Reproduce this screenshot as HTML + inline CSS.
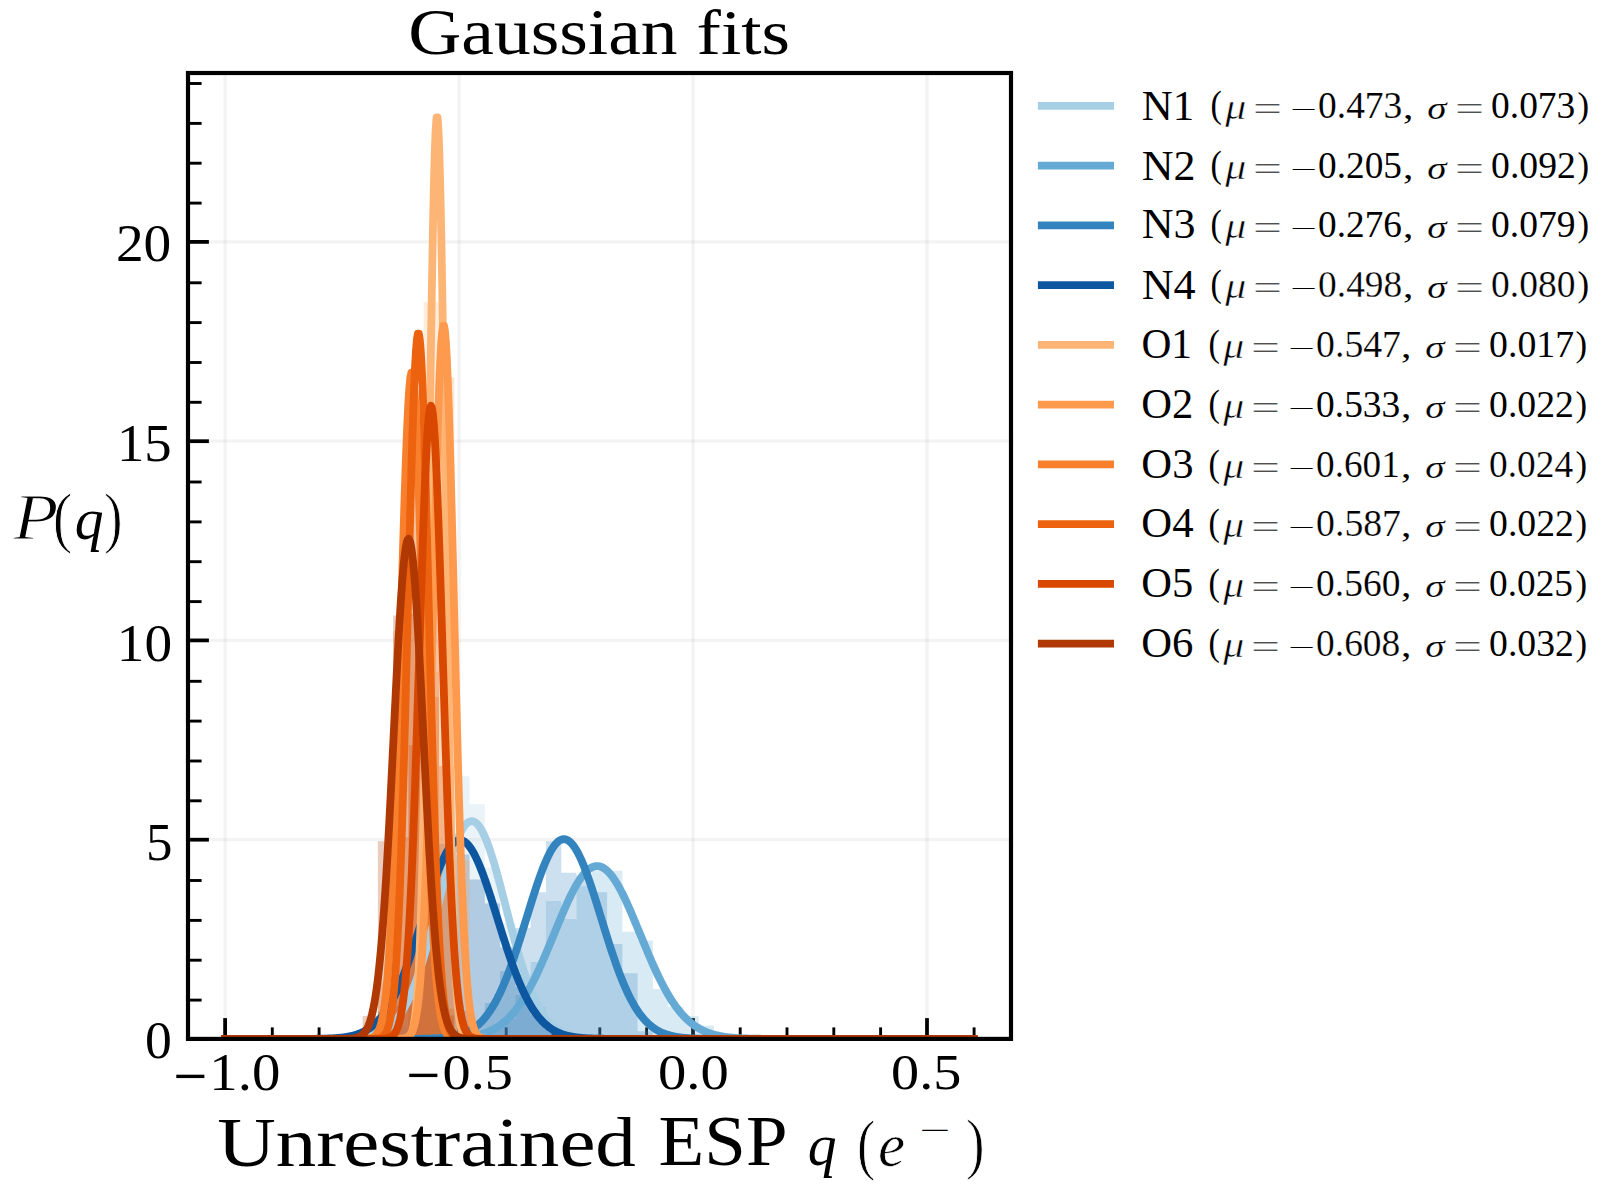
<!DOCTYPE html>
<html lang="en"><head><meta charset="utf-8"><title>Gaussian fits</title>
<style>
html,body{margin:0;padding:0;background:#fff;}
body{width:1612px;height:1192px;overflow:hidden;}
svg{display:block;}
text{font-family:"Liberation Serif",serif;fill:#000;}
.i{font-style:italic;}
</style></head><body>
<svg width="1612" height="1192" viewBox="0 0 1612 1192">
<defs><clipPath id="ax"><rect x="188.0" y="73.0" width="823.0" height="965.9"/></clipPath></defs>
<rect width="1612" height="1192" fill="#fff"/>
<g stroke="#b0b0b0" stroke-opacity="0.15" stroke-width="3.33" clip-path="url(#ax)">
<line x1="225.1" y1="73.0" x2="225.1" y2="1038.9"/><line x1="459.1" y1="73.0" x2="459.1" y2="1038.9"/><line x1="693.0" y1="73.0" x2="693.0" y2="1038.9"/><line x1="927.0" y1="73.0" x2="927.0" y2="1038.9"/><line x1="188.0" y1="839.7" x2="1011.0" y2="839.7"/><line x1="188.0" y1="640.4" x2="1011.0" y2="640.4"/><line x1="188.0" y1="441.2" x2="1011.0" y2="441.2"/><line x1="188.0" y1="241.9" x2="1011.0" y2="241.9"/>
</g>
<g stroke="#000" fill="none">
<g stroke-width="3.75"><line x1="225.1" y1="1038.9" x2="225.1" y2="1018.1"/><line x1="459.1" y1="1038.9" x2="459.1" y2="1018.1"/><line x1="693.0" y1="1038.9" x2="693.0" y2="1018.1"/><line x1="927.0" y1="1038.9" x2="927.0" y2="1018.1"/><line x1="188.0" y1="1038.9" x2="208.9" y2="1038.9"/><line x1="188.0" y1="839.7" x2="208.9" y2="839.7"/><line x1="188.0" y1="640.4" x2="208.9" y2="640.4"/><line x1="188.0" y1="441.2" x2="208.9" y2="441.2"/><line x1="188.0" y1="241.9" x2="208.9" y2="241.9"/></g>
<g stroke-width="2.9"><line x1="272.3" y1="1038.9" x2="272.3" y2="1027.4"/><line x1="319.1" y1="1038.9" x2="319.1" y2="1027.4"/><line x1="365.9" y1="1038.9" x2="365.9" y2="1027.4"/><line x1="412.7" y1="1038.9" x2="412.7" y2="1027.4"/><line x1="506.2" y1="1038.9" x2="506.2" y2="1027.4"/><line x1="553.0" y1="1038.9" x2="553.0" y2="1027.4"/><line x1="599.8" y1="1038.9" x2="599.8" y2="1027.4"/><line x1="646.6" y1="1038.9" x2="646.6" y2="1027.4"/><line x1="740.2" y1="1038.9" x2="740.2" y2="1027.4"/><line x1="787.0" y1="1038.9" x2="787.0" y2="1027.4"/><line x1="833.8" y1="1038.9" x2="833.8" y2="1027.4"/><line x1="880.6" y1="1038.9" x2="880.6" y2="1027.4"/><line x1="974.1" y1="1038.9" x2="974.1" y2="1027.4"/><line x1="188.0" y1="1000.1" x2="201.6" y2="1000.1"/><line x1="188.0" y1="960.2" x2="201.6" y2="960.2"/><line x1="188.0" y1="920.4" x2="201.6" y2="920.4"/><line x1="188.0" y1="880.5" x2="201.6" y2="880.5"/><line x1="188.0" y1="800.8" x2="201.6" y2="800.8"/><line x1="188.0" y1="761.0" x2="201.6" y2="761.0"/><line x1="188.0" y1="721.1" x2="201.6" y2="721.1"/><line x1="188.0" y1="681.3" x2="201.6" y2="681.3"/><line x1="188.0" y1="601.6" x2="201.6" y2="601.6"/><line x1="188.0" y1="561.7" x2="201.6" y2="561.7"/><line x1="188.0" y1="521.9" x2="201.6" y2="521.9"/><line x1="188.0" y1="482.0" x2="201.6" y2="482.0"/><line x1="188.0" y1="402.3" x2="201.6" y2="402.3"/><line x1="188.0" y1="362.5" x2="201.6" y2="362.5"/><line x1="188.0" y1="322.6" x2="201.6" y2="322.6"/><line x1="188.0" y1="282.8" x2="201.6" y2="282.8"/><line x1="188.0" y1="203.1" x2="201.6" y2="203.1"/><line x1="188.0" y1="163.2" x2="201.6" y2="163.2"/><line x1="188.0" y1="123.4" x2="201.6" y2="123.4"/><line x1="188.0" y1="83.5" x2="201.6" y2="83.5"/></g>
</g>
<g clip-path="url(#ax)" fill-opacity="0.25" stroke="none">
<path fill="#a6cee4" d="M225.10 1038.90L225.10 1038.90L240.38 1038.90L240.38 1038.90L255.66 1038.90L255.66 1038.90L270.94 1038.90L270.94 1038.90L286.21 1038.90L286.21 1038.90L301.49 1038.90L301.49 1038.90L316.77 1038.90L316.77 1038.90L332.05 1038.90L332.05 1038.90L347.33 1038.90L347.33 1038.90L362.61 1038.90L362.61 1036.08L377.88 1036.08L377.88 1029.45L393.16 1029.45L393.16 1026.95L408.44 1026.95L408.44 999.05L423.72 999.05L423.72 939.28L439.00 939.28L439.00 871.54L454.28 871.54L454.28 776.30L469.55 776.30L469.55 804.20L484.83 804.20L484.83 867.55L500.11 867.55L500.11 923.34L515.39 923.34L515.39 975.14L530.67 975.14L530.67 1007.02L545.95 1007.02L545.95 1026.95L561.22 1026.95L561.22 1034.92L576.50 1034.92L576.50 1037.86L591.78 1037.86L591.78 1038.90L607.06 1038.90L607.06 1038.90L622.34 1038.90L622.34 1038.90L637.62 1038.90L637.62 1038.90L652.89 1038.90L652.89 1038.90L668.17 1038.90L668.17 1038.90L683.45 1038.90L683.45 1038.90L698.73 1038.90L698.73 1038.90L714.01 1038.90L714.01 1038.90L729.29 1038.90L729.29 1038.90L744.56 1038.90L744.56 1038.90L759.84 1038.90L759.84 1038.90L775.12 1038.90L775.12 1038.90L790.40 1038.90L790.40 1038.90L805.68 1038.90L805.68 1038.90L820.96 1038.90L820.96 1038.90L836.23 1038.90L836.23 1038.90L851.51 1038.90L851.51 1038.90L866.79 1038.90L866.79 1038.90L882.07 1038.90L882.07 1038.90L897.35 1038.90L897.35 1038.90L912.63 1038.90L912.63 1038.90L927.90 1038.90L927.90 1038.90L943.18 1038.90L943.18 1038.90L958.46 1038.90L958.46 1038.90L973.74 1038.90L973.74 1038.90Z"/>
<path fill="#65aad4" d="M225.10 1038.90L225.10 1038.90L240.38 1038.90L240.38 1038.90L255.66 1038.90L255.66 1038.90L270.94 1038.90L270.94 1038.90L286.21 1038.90L286.21 1038.90L301.49 1038.90L301.49 1038.90L316.77 1038.90L316.77 1038.90L332.05 1038.90L332.05 1038.90L347.33 1038.90L347.33 1038.90L362.61 1038.90L362.61 1038.90L377.88 1038.90L377.88 1038.90L393.16 1038.90L393.16 1038.90L408.44 1038.90L408.44 1038.90L423.72 1038.90L423.72 1038.90L439.00 1038.90L439.00 1038.90L454.28 1038.90L454.28 1037.59L469.55 1037.59L469.55 1035.20L484.83 1035.20L484.83 1029.65L500.11 1029.65L500.11 1018.98L515.39 1018.98L515.39 995.07L530.67 995.07L530.67 961.99L545.95 961.99L545.95 901.03L561.22 901.03L561.22 918.96L576.50 918.96L576.50 886.28L591.78 886.28L591.78 870.74L607.06 870.74L607.06 870.74L622.34 870.74L622.34 931.71L637.62 931.71L637.62 940.48L652.89 940.48L652.89 989.09L668.17 989.09L668.17 1007.02L683.45 1007.02L683.45 1016.19L698.73 1016.19L698.73 1025.75L714.01 1025.75L714.01 1034.92L729.29 1034.92L729.29 1037.97L744.56 1037.97L744.56 1038.90L759.84 1038.90L759.84 1038.90L775.12 1038.90L775.12 1038.90L790.40 1038.90L790.40 1038.90L805.68 1038.90L805.68 1038.90L820.96 1038.90L820.96 1038.90L836.23 1038.90L836.23 1038.90L851.51 1038.90L851.51 1038.90L866.79 1038.90L866.79 1038.90L882.07 1038.90L882.07 1038.90L897.35 1038.90L897.35 1038.90L912.63 1038.90L912.63 1038.90L927.90 1038.90L927.90 1038.90L943.18 1038.90L943.18 1038.90L958.46 1038.90L958.46 1038.90L973.74 1038.90L973.74 1038.90Z"/>
<path fill="#3383be" d="M225.10 1038.90L225.10 1038.90L240.38 1038.90L240.38 1038.90L255.66 1038.90L255.66 1038.90L270.94 1038.90L270.94 1038.90L286.21 1038.90L286.21 1038.90L301.49 1038.90L301.49 1038.90L316.77 1038.90L316.77 1038.90L332.05 1038.90L332.05 1038.90L347.33 1038.90L347.33 1038.90L362.61 1038.90L362.61 1038.90L377.88 1038.90L377.88 1038.90L393.16 1038.90L393.16 1038.90L408.44 1038.90L408.44 1038.90L423.72 1038.90L423.72 1038.90L439.00 1038.90L439.00 1037.40L454.28 1037.40L454.28 1033.97L469.55 1033.97L469.55 1022.96L484.83 1022.96L484.83 1003.04L500.11 1003.04L500.11 971.16L515.39 971.16L515.39 928.12L530.67 928.12L530.67 892.26L545.95 892.26L545.95 841.25L561.22 841.25L561.22 872.73L576.50 872.73L576.50 875.52L591.78 875.52L591.78 892.26L607.06 892.26L607.06 944.06L622.34 944.06L622.34 973.15L637.62 973.15L637.62 1031.33L652.89 1031.33L652.89 1038.90L668.17 1038.90L668.17 1038.90L683.45 1038.90L683.45 1038.90L698.73 1038.90L698.73 1038.90L714.01 1038.90L714.01 1038.90L729.29 1038.90L729.29 1038.90L744.56 1038.90L744.56 1038.90L759.84 1038.90L759.84 1038.90L775.12 1038.90L775.12 1038.90L790.40 1038.90L790.40 1038.90L805.68 1038.90L805.68 1038.90L820.96 1038.90L820.96 1038.90L836.23 1038.90L836.23 1038.90L851.51 1038.90L851.51 1038.90L866.79 1038.90L866.79 1038.90L882.07 1038.90L882.07 1038.90L897.35 1038.90L897.35 1038.90L912.63 1038.90L912.63 1038.90L927.90 1038.90L927.90 1038.90L943.18 1038.90L943.18 1038.90L958.46 1038.90L958.46 1038.90L973.74 1038.90L973.74 1038.90Z"/>
<path fill="#0d57a1" d="M225.10 1038.90L225.10 1038.90L240.38 1038.90L240.38 1038.90L255.66 1038.90L255.66 1038.90L270.94 1038.90L270.94 1038.90L286.21 1038.90L286.21 1038.90L301.49 1038.90L301.49 1038.90L316.77 1038.90L316.77 1038.90L332.05 1038.90L332.05 1037.69L347.33 1037.69L347.33 1034.92L362.61 1034.92L362.61 1026.95L377.88 1026.95L377.88 1011.01L393.16 1011.01L393.16 983.11L408.44 983.11L408.44 935.30L423.72 935.30L423.72 887.48L439.00 887.48L439.00 843.64L454.28 843.64L454.28 854.40L469.55 854.40L469.55 879.51L484.83 879.51L484.83 903.42L500.11 903.42L500.11 947.25L515.39 947.25L515.39 987.10L530.67 987.10L530.67 1014.99L545.95 1014.99L545.95 1026.95L561.22 1026.95L561.22 1034.92L576.50 1034.92L576.50 1038.03L591.78 1038.03L591.78 1038.90L607.06 1038.90L607.06 1038.90L622.34 1038.90L622.34 1038.90L637.62 1038.90L637.62 1038.90L652.89 1038.90L652.89 1038.90L668.17 1038.90L668.17 1038.90L683.45 1038.90L683.45 1038.90L698.73 1038.90L698.73 1038.90L714.01 1038.90L714.01 1038.90L729.29 1038.90L729.29 1038.90L744.56 1038.90L744.56 1038.90L759.84 1038.90L759.84 1038.90L775.12 1038.90L775.12 1038.90L790.40 1038.90L790.40 1038.90L805.68 1038.90L805.68 1038.90L820.96 1038.90L820.96 1038.90L836.23 1038.90L836.23 1038.90L851.51 1038.90L851.51 1038.90L866.79 1038.90L866.79 1038.90L882.07 1038.90L882.07 1038.90L897.35 1038.90L897.35 1038.90L912.63 1038.90L912.63 1038.90L927.90 1038.90L927.90 1038.90L943.18 1038.90L943.18 1038.90L958.46 1038.90L958.46 1038.90L973.74 1038.90L973.74 1038.90Z"/>
<path fill="#fdb576" d="M225.10 1038.90L225.10 1038.90L240.38 1038.90L240.38 1038.90L255.66 1038.90L255.66 1038.90L270.94 1038.90L270.94 1038.90L286.21 1038.90L286.21 1038.90L301.49 1038.90L301.49 1038.90L316.77 1038.90L316.77 1038.90L332.05 1038.90L332.05 1038.90L347.33 1038.90L347.33 1038.90L362.61 1038.90L362.61 1038.90L377.88 1038.90L377.88 1038.90L393.16 1038.90L393.16 1038.90L408.44 1038.90L408.44 979.46L423.72 979.46L423.72 301.71L439.00 301.71L439.00 564.63L454.28 564.63L454.28 1019.03L469.55 1019.03L469.55 1038.90L484.83 1038.90L484.83 1038.90L500.11 1038.90L500.11 1038.90L515.39 1038.90L515.39 1038.90L530.67 1038.90L530.67 1038.90L545.95 1038.90L545.95 1038.90L561.22 1038.90L561.22 1038.90L576.50 1038.90L576.50 1038.90L591.78 1038.90L591.78 1038.90L607.06 1038.90L607.06 1038.90L622.34 1038.90L622.34 1038.90L637.62 1038.90L637.62 1038.90L652.89 1038.90L652.89 1038.90L668.17 1038.90L668.17 1038.90L683.45 1038.90L683.45 1038.90L698.73 1038.90L698.73 1038.90L714.01 1038.90L714.01 1038.90L729.29 1038.90L729.29 1038.90L744.56 1038.90L744.56 1038.90L759.84 1038.90L759.84 1038.90L775.12 1038.90L775.12 1038.90L790.40 1038.90L790.40 1038.90L805.68 1038.90L805.68 1038.90L820.96 1038.90L820.96 1038.90L836.23 1038.90L836.23 1038.90L851.51 1038.90L851.51 1038.90L866.79 1038.90L866.79 1038.90L882.07 1038.90L882.07 1038.90L897.35 1038.90L897.35 1038.90L912.63 1038.90L912.63 1038.90L927.90 1038.90L927.90 1038.90L943.18 1038.90L943.18 1038.90L958.46 1038.90L958.46 1038.90L973.74 1038.90L973.74 1038.90Z"/>
<path fill="#fd9a4e" d="M225.10 1038.90L225.10 1038.90L240.38 1038.90L240.38 1038.90L255.66 1038.90L255.66 1038.90L270.94 1038.90L270.94 1038.90L286.21 1038.90L286.21 1038.90L301.49 1038.90L301.49 1038.90L316.77 1038.90L316.77 1038.90L332.05 1038.90L332.05 1038.90L347.33 1038.90L347.33 1038.90L362.61 1038.90L362.61 1038.90L377.88 1038.90L377.88 1038.90L393.16 1038.90L393.16 1038.90L408.44 1038.90L408.44 1005.01L423.72 1005.01L423.72 671.72L439.00 671.72L439.00 377.42L454.28 377.42L454.28 859.97L469.55 859.97L469.55 1031.15L484.83 1031.15L484.83 1038.90L500.11 1038.90L500.11 1038.90L515.39 1038.90L515.39 1038.90L530.67 1038.90L530.67 1038.90L545.95 1038.90L545.95 1038.90L561.22 1038.90L561.22 1038.90L576.50 1038.90L576.50 1038.90L591.78 1038.90L591.78 1038.90L607.06 1038.90L607.06 1038.90L622.34 1038.90L622.34 1038.90L637.62 1038.90L637.62 1038.90L652.89 1038.90L652.89 1038.90L668.17 1038.90L668.17 1038.90L683.45 1038.90L683.45 1038.90L698.73 1038.90L698.73 1038.90L714.01 1038.90L714.01 1038.90L729.29 1038.90L729.29 1038.90L744.56 1038.90L744.56 1038.90L759.84 1038.90L759.84 1038.90L775.12 1038.90L775.12 1038.90L790.40 1038.90L790.40 1038.90L805.68 1038.90L805.68 1038.90L820.96 1038.90L820.96 1038.90L836.23 1038.90L836.23 1038.90L851.51 1038.90L851.51 1038.90L866.79 1038.90L866.79 1038.90L882.07 1038.90L882.07 1038.90L897.35 1038.90L897.35 1038.90L912.63 1038.90L912.63 1038.90L927.90 1038.90L927.90 1038.90L943.18 1038.90L943.18 1038.90L958.46 1038.90L958.46 1038.90L973.74 1038.90L973.74 1038.90Z"/>
<path fill="#f87f2c" d="M225.10 1038.90L225.10 1038.90L240.38 1038.90L240.38 1038.90L255.66 1038.90L255.66 1038.90L270.94 1038.90L270.94 1038.90L286.21 1038.90L286.21 1038.90L301.49 1038.90L301.49 1038.90L316.77 1038.90L316.77 1038.90L332.05 1038.90L332.05 1038.90L347.33 1038.90L347.33 1038.90L362.61 1038.90L362.61 1037.46L377.88 1037.46L377.88 982.45L393.16 982.45L393.16 630.74L408.44 630.74L408.44 458.50L423.72 458.50L423.72 874.00L439.00 874.00L439.00 1030.00L454.28 1030.00L454.28 1038.90L469.55 1038.90L469.55 1038.90L484.83 1038.90L484.83 1038.90L500.11 1038.90L500.11 1038.90L515.39 1038.90L515.39 1038.90L530.67 1038.90L530.67 1038.90L545.95 1038.90L545.95 1038.90L561.22 1038.90L561.22 1038.90L576.50 1038.90L576.50 1038.90L591.78 1038.90L591.78 1038.90L607.06 1038.90L607.06 1038.90L622.34 1038.90L622.34 1038.90L637.62 1038.90L637.62 1038.90L652.89 1038.90L652.89 1038.90L668.17 1038.90L668.17 1038.90L683.45 1038.90L683.45 1038.90L698.73 1038.90L698.73 1038.90L714.01 1038.90L714.01 1038.90L729.29 1038.90L729.29 1038.90L744.56 1038.90L744.56 1038.90L759.84 1038.90L759.84 1038.90L775.12 1038.90L775.12 1038.90L790.40 1038.90L790.40 1038.90L805.68 1038.90L805.68 1038.90L820.96 1038.90L820.96 1038.90L836.23 1038.90L836.23 1038.90L851.51 1038.90L851.51 1038.90L866.79 1038.90L866.79 1038.90L882.07 1038.90L882.07 1038.90L897.35 1038.90L897.35 1038.90L912.63 1038.90L912.63 1038.90L927.90 1038.90L927.90 1038.90L943.18 1038.90L943.18 1038.90L958.46 1038.90L958.46 1038.90L973.74 1038.90L973.74 1038.90Z"/>
<path fill="#ec620f" d="M225.10 1038.90L225.10 1038.90L240.38 1038.90L240.38 1038.90L255.66 1038.90L255.66 1038.90L270.94 1038.90L270.94 1038.90L286.21 1038.90L286.21 1038.90L301.49 1038.90L301.49 1038.90L316.77 1038.90L316.77 1038.90L332.05 1038.90L332.05 1038.90L347.33 1038.90L347.33 1038.90L362.61 1038.90L362.61 1038.90L377.88 1038.90L377.88 1028.69L393.16 1028.69L393.16 837.25L408.44 837.25L408.44 402.64L423.72 402.64L423.72 697.25L439.00 697.25L439.00 1008.80L454.28 1008.80L454.28 1038.90L469.55 1038.90L469.55 1038.90L484.83 1038.90L484.83 1038.90L500.11 1038.90L500.11 1038.90L515.39 1038.90L515.39 1038.90L530.67 1038.90L530.67 1038.90L545.95 1038.90L545.95 1038.90L561.22 1038.90L561.22 1038.90L576.50 1038.90L576.50 1038.90L591.78 1038.90L591.78 1038.90L607.06 1038.90L607.06 1038.90L622.34 1038.90L622.34 1038.90L637.62 1038.90L637.62 1038.90L652.89 1038.90L652.89 1038.90L668.17 1038.90L668.17 1038.90L683.45 1038.90L683.45 1038.90L698.73 1038.90L698.73 1038.90L714.01 1038.90L714.01 1038.90L729.29 1038.90L729.29 1038.90L744.56 1038.90L744.56 1038.90L759.84 1038.90L759.84 1038.90L775.12 1038.90L775.12 1038.90L790.40 1038.90L790.40 1038.90L805.68 1038.90L805.68 1038.90L820.96 1038.90L820.96 1038.90L836.23 1038.90L836.23 1038.90L851.51 1038.90L851.51 1038.90L866.79 1038.90L866.79 1038.90L882.07 1038.90L882.07 1038.90L897.35 1038.90L897.35 1038.90L912.63 1038.90L912.63 1038.90L927.90 1038.90L927.90 1038.90L943.18 1038.90L943.18 1038.90L958.46 1038.90L958.46 1038.90L973.74 1038.90L973.74 1038.90Z"/>
<path fill="#d84801" d="M225.10 1038.90L225.10 1038.90L240.38 1038.90L240.38 1038.90L255.66 1038.90L255.66 1038.90L270.94 1038.90L270.94 1038.90L286.21 1038.90L286.21 1038.90L301.49 1038.90L301.49 1038.90L316.77 1038.90L316.77 1038.90L332.05 1038.90L332.05 1038.90L347.33 1038.90L347.33 1038.90L362.61 1038.90L362.61 1038.90L377.88 1038.90L377.88 1038.90L393.16 1038.90L393.16 1006.07L408.44 1006.07L408.44 744.99L423.72 744.99L423.72 447.99L439.00 447.99L439.00 765.89L454.28 765.89L454.28 1010.63L469.55 1010.63L469.55 1038.90L484.83 1038.90L484.83 1038.90L500.11 1038.90L500.11 1038.90L515.39 1038.90L515.39 1038.90L530.67 1038.90L530.67 1038.90L545.95 1038.90L545.95 1038.90L561.22 1038.90L561.22 1038.90L576.50 1038.90L576.50 1038.90L591.78 1038.90L591.78 1038.90L607.06 1038.90L607.06 1038.90L622.34 1038.90L622.34 1038.90L637.62 1038.90L637.62 1038.90L652.89 1038.90L652.89 1038.90L668.17 1038.90L668.17 1038.90L683.45 1038.90L683.45 1038.90L698.73 1038.90L698.73 1038.90L714.01 1038.90L714.01 1038.90L729.29 1038.90L729.29 1038.90L744.56 1038.90L744.56 1038.90L759.84 1038.90L759.84 1038.90L775.12 1038.90L775.12 1038.90L790.40 1038.90L790.40 1038.90L805.68 1038.90L805.68 1038.90L820.96 1038.90L820.96 1038.90L836.23 1038.90L836.23 1038.90L851.51 1038.90L851.51 1038.90L866.79 1038.90L866.79 1038.90L882.07 1038.90L882.07 1038.90L897.35 1038.90L897.35 1038.90L912.63 1038.90L912.63 1038.90L927.90 1038.90L927.90 1038.90L943.18 1038.90L943.18 1038.90L958.46 1038.90L958.46 1038.90L973.74 1038.90L973.74 1038.90Z"/>
<path fill="#b03903" d="M225.10 1038.90L225.10 1038.90L240.38 1038.90L240.38 1038.90L255.66 1038.90L255.66 1038.90L270.94 1038.90L270.94 1038.90L286.21 1038.90L286.21 1038.90L301.49 1038.90L301.49 1038.90L316.77 1038.90L316.77 1038.90L332.05 1038.90L332.05 1038.90L347.33 1038.90L347.33 1037.69L362.61 1037.69L362.61 1016.06L377.88 1016.06L377.88 841.25L393.16 841.25L393.16 615.46L408.44 615.46L408.44 613.41L423.72 613.41L423.72 876.39L439.00 876.39L439.00 1015.50L454.28 1015.50L454.28 1037.65L469.55 1037.65L469.55 1038.90L484.83 1038.90L484.83 1038.90L500.11 1038.90L500.11 1038.90L515.39 1038.90L515.39 1038.90L530.67 1038.90L530.67 1038.90L545.95 1038.90L545.95 1038.90L561.22 1038.90L561.22 1038.90L576.50 1038.90L576.50 1038.90L591.78 1038.90L591.78 1038.90L607.06 1038.90L607.06 1038.90L622.34 1038.90L622.34 1038.90L637.62 1038.90L637.62 1038.90L652.89 1038.90L652.89 1038.90L668.17 1038.90L668.17 1038.90L683.45 1038.90L683.45 1038.90L698.73 1038.90L698.73 1038.90L714.01 1038.90L714.01 1038.90L729.29 1038.90L729.29 1038.90L744.56 1038.90L744.56 1038.90L759.84 1038.90L759.84 1038.90L775.12 1038.90L775.12 1038.90L790.40 1038.90L790.40 1038.90L805.68 1038.90L805.68 1038.90L820.96 1038.90L820.96 1038.90L836.23 1038.90L836.23 1038.90L851.51 1038.90L851.51 1038.90L866.79 1038.90L866.79 1038.90L882.07 1038.90L882.07 1038.90L897.35 1038.90L897.35 1038.90L912.63 1038.90L912.63 1038.90L927.90 1038.90L927.90 1038.90L943.18 1038.90L943.18 1038.90L958.46 1038.90L958.46 1038.90L973.74 1038.90L973.74 1038.90Z"/>
</g>
<g clip-path="url(#ax)" fill="none" stroke-width="7.8" stroke-linecap="square" stroke-linejoin="round">
<path stroke="#a6cee4" d="M225.10 1038.90L318.68 1038.89L319.62 1038.89L320.55 1038.89L321.49 1038.89L322.42 1038.88L323.36 1038.88L324.29 1038.88L325.23 1038.88L326.17 1038.88L327.10 1038.87L328.04 1038.87L328.97 1038.86L329.91 1038.86L330.85 1038.86L331.78 1038.85L332.72 1038.84L333.65 1038.84L334.59 1038.83L335.52 1038.82L336.46 1038.81L337.40 1038.80L338.33 1038.79L339.27 1038.78L340.20 1038.77L341.14 1038.75L342.08 1038.74L343.01 1038.72L343.95 1038.70L344.88 1038.68L345.82 1038.65L346.75 1038.63L347.69 1038.60L348.63 1038.57L349.56 1038.54L350.50 1038.50L351.43 1038.46L352.37 1038.41L353.30 1038.36L354.24 1038.31L355.18 1038.25L356.11 1038.19L357.05 1038.12L357.98 1038.05L358.92 1037.96L359.86 1037.88L360.79 1037.78L361.73 1037.68L362.66 1037.56L363.60 1037.44L364.53 1037.31L365.47 1037.17L366.41 1037.02L367.34 1036.85L368.28 1036.67L369.21 1036.48L370.15 1036.27L371.08 1036.05L372.02 1035.81L372.96 1035.56L373.89 1035.29L374.83 1034.99L375.76 1034.68L376.70 1034.34L377.64 1033.98L378.57 1033.60L379.51 1033.19L380.44 1032.75L381.38 1032.29L382.31 1031.80L383.25 1031.27L384.19 1030.71L385.12 1030.12L386.06 1029.49L386.99 1028.83L387.93 1028.13L388.87 1027.38L389.80 1026.60L390.74 1025.76L391.67 1024.89L392.61 1023.97L393.54 1022.99L394.48 1021.97L395.42 1020.90L396.35 1019.77L397.29 1018.58L398.22 1017.34L399.16 1016.04L400.09 1014.68L401.03 1013.26L401.97 1011.78L402.90 1010.23L403.84 1008.61L404.77 1006.93L405.71 1005.18L406.65 1003.36L407.58 1001.47L408.52 999.51L409.45 997.48L410.39 995.38L411.32 993.20L412.26 990.95L413.20 988.63L414.13 986.24L415.07 983.77L416.00 981.23L416.94 978.62L417.87 975.94L418.81 973.18L419.75 970.36L420.68 967.47L421.62 964.52L422.55 961.50L423.49 958.42L424.43 955.28L425.36 952.08L426.30 948.83L427.23 945.52L428.17 942.17L429.10 938.77L430.04 935.33L430.98 931.85L431.91 928.34L432.85 924.80L433.78 921.24L434.72 917.65L435.65 914.05L436.59 910.43L437.53 906.82L438.46 903.20L439.40 899.59L440.33 895.99L441.27 892.40L442.21 888.84L443.14 885.31L444.08 881.81L445.01 878.35L445.95 874.94L446.88 871.59L447.82 868.29L448.76 865.06L449.69 861.90L450.63 858.81L451.56 855.82L452.50 852.91L453.44 850.09L454.37 847.38L455.31 844.78L456.24 842.28L457.18 839.91L458.11 837.66L459.05 835.53L459.99 833.54L460.92 831.68L461.86 829.96L462.79 828.38L463.73 826.96L464.66 825.68L465.60 824.56L466.54 823.59L467.47 822.78L468.41 822.13L469.34 821.64L470.28 821.32L471.22 821.15L472.15 821.15L473.09 821.32L474.02 821.64L474.96 822.13L475.89 822.78L476.83 823.59L477.77 824.56L478.70 825.68L479.64 826.96L480.57 828.38L481.51 829.96L482.45 831.68L483.38 833.54L484.32 835.53L485.25 837.66L486.19 839.91L487.12 842.28L488.06 844.78L489.00 847.38L489.93 850.09L490.87 852.91L491.80 855.82L492.74 858.81L493.67 861.90L494.61 865.06L495.55 868.29L496.48 871.59L497.42 874.94L498.35 878.35L499.29 881.81L500.23 885.31L501.16 888.84L502.10 892.40L503.03 895.99L503.97 899.59L504.90 903.20L505.84 906.82L506.78 910.43L507.71 914.05L508.65 917.65L509.58 921.24L510.52 924.80L511.45 928.34L512.39 931.85L513.33 935.33L514.26 938.77L515.20 942.17L516.13 945.52L517.07 948.83L518.01 952.08L518.94 955.28L519.88 958.42L520.81 961.50L521.75 964.52L522.68 967.47L523.62 970.36L524.56 973.18L525.49 975.94L526.43 978.62L527.36 981.23L528.30 983.77L529.24 986.24L530.17 988.63L531.11 990.95L532.04 993.20L532.98 995.38L533.91 997.48L534.85 999.51L535.79 1001.47L536.72 1003.36L537.66 1005.18L538.59 1006.93L539.53 1008.61L540.46 1010.23L541.40 1011.78L542.34 1013.26L543.27 1014.68L544.21 1016.04L545.14 1017.34L546.08 1018.58L547.02 1019.77L547.95 1020.90L548.89 1021.97L549.82 1022.99L550.76 1023.97L551.69 1024.89L552.63 1025.76L553.57 1026.60L554.50 1027.38L555.44 1028.13L556.37 1028.83L557.31 1029.49L558.24 1030.12L559.18 1030.71L560.12 1031.27L561.05 1031.80L561.99 1032.29L562.92 1032.75L563.86 1033.19L564.80 1033.60L565.73 1033.98L566.67 1034.34L567.60 1034.68L568.54 1034.99L569.47 1035.29L570.41 1035.56L571.35 1035.81L572.28 1036.05L573.22 1036.27L574.15 1036.48L575.09 1036.67L576.02 1036.85L576.96 1037.02L577.90 1037.17L578.83 1037.31L579.77 1037.44L580.70 1037.56L581.64 1037.68L582.58 1037.78L583.51 1037.88L584.45 1037.96L585.38 1038.05L586.32 1038.12L587.25 1038.19L588.19 1038.25L589.13 1038.31L590.06 1038.36L591.00 1038.41L591.93 1038.46L592.87 1038.50L593.81 1038.54L594.74 1038.57L595.68 1038.60L596.61 1038.63L597.55 1038.65L598.48 1038.68L599.42 1038.70L600.36 1038.72L601.29 1038.74L602.23 1038.75L603.16 1038.77L604.10 1038.78L605.03 1038.79L605.97 1038.80L606.91 1038.81L607.84 1038.82L608.78 1038.83L609.71 1038.84L610.65 1038.84L611.59 1038.85L612.52 1038.86L613.46 1038.86L614.39 1038.86L615.33 1038.87L616.26 1038.87L617.20 1038.88L618.14 1038.88L619.07 1038.88L620.01 1038.88L620.94 1038.88L621.88 1038.89L622.82 1038.89L623.75 1038.89L624.69 1038.89L973.74 1038.90"/>
<path stroke="#65aad4" d="M225.10 1038.90L406.65 1038.89L407.58 1038.89L408.52 1038.89L409.45 1038.89L410.39 1038.89L411.32 1038.88L412.26 1038.88L413.20 1038.88L414.13 1038.88L415.07 1038.88L416.00 1038.88L416.94 1038.87L417.87 1038.87L418.81 1038.87L419.75 1038.86L420.68 1038.86L421.62 1038.86L422.55 1038.85L423.49 1038.85L424.43 1038.84L425.36 1038.84L426.30 1038.83L427.23 1038.83L428.17 1038.82L429.10 1038.81L430.04 1038.81L430.98 1038.80L431.91 1038.79L432.85 1038.78L433.78 1038.77L434.72 1038.76L435.65 1038.75L436.59 1038.73L437.53 1038.72L438.46 1038.71L439.40 1038.69L440.33 1038.67L441.27 1038.65L442.21 1038.63L443.14 1038.61L444.08 1038.59L445.01 1038.56L445.95 1038.54L446.88 1038.51L447.82 1038.48L448.76 1038.44L449.69 1038.41L450.63 1038.37L451.56 1038.33L452.50 1038.29L453.44 1038.24L454.37 1038.19L455.31 1038.14L456.24 1038.08L457.18 1038.02L458.11 1037.96L459.05 1037.89L459.99 1037.82L460.92 1037.74L461.86 1037.66L462.79 1037.57L463.73 1037.48L464.66 1037.38L465.60 1037.27L466.54 1037.16L467.47 1037.04L468.41 1036.92L469.34 1036.78L470.28 1036.64L471.22 1036.50L472.15 1036.34L473.09 1036.17L474.02 1036.00L474.96 1035.81L475.89 1035.61L476.83 1035.41L477.77 1035.19L478.70 1034.96L479.64 1034.72L480.57 1034.47L481.51 1034.20L482.45 1033.92L483.38 1033.62L484.32 1033.31L485.25 1032.98L486.19 1032.64L487.12 1032.28L488.06 1031.91L489.00 1031.51L489.93 1031.10L490.87 1030.67L491.80 1030.22L492.74 1029.74L493.67 1029.25L494.61 1028.74L495.55 1028.20L496.48 1027.64L497.42 1027.05L498.35 1026.45L499.29 1025.81L500.23 1025.15L501.16 1024.47L502.10 1023.75L503.03 1023.01L503.97 1022.24L504.90 1021.45L505.84 1020.62L506.78 1019.76L507.71 1018.87L508.65 1017.95L509.58 1017.00L510.52 1016.02L511.45 1015.00L512.39 1013.95L513.33 1012.87L514.26 1011.75L515.20 1010.60L516.13 1009.41L517.07 1008.19L518.01 1006.93L518.94 1005.63L519.88 1004.30L520.81 1002.93L521.75 1001.53L522.68 1000.09L523.62 998.61L524.56 997.10L525.49 995.55L526.43 993.97L527.36 992.35L528.30 990.69L529.24 989.00L530.17 987.27L531.11 985.51L532.04 983.71L532.98 981.88L533.91 980.02L534.85 978.13L535.79 976.20L536.72 974.25L537.66 972.26L538.59 970.25L539.53 968.21L540.46 966.14L541.40 964.04L542.34 961.93L543.27 959.79L544.21 957.63L545.14 955.45L546.08 953.25L547.02 951.04L547.95 948.81L548.89 946.57L549.82 944.32L550.76 942.05L551.69 939.79L552.63 937.51L553.57 935.23L554.50 932.96L555.44 930.68L556.37 928.40L557.31 926.14L558.24 923.88L559.18 921.63L560.12 919.39L561.05 917.16L561.99 914.96L562.92 912.77L563.86 910.61L564.80 908.47L565.73 906.36L566.67 904.27L567.60 902.22L568.54 900.20L569.47 898.22L570.41 896.28L571.35 894.38L572.28 892.53L573.22 890.72L574.15 888.96L575.09 887.25L576.02 885.59L576.96 883.99L577.90 882.44L578.83 880.95L579.77 879.53L580.70 878.17L581.64 876.87L582.58 875.64L583.51 874.48L584.45 873.39L585.38 872.37L586.32 871.42L587.25 870.55L588.19 869.75L589.13 869.03L590.06 868.39L591.00 867.82L591.93 867.34L592.87 866.93L593.81 866.61L594.74 866.36L595.68 866.20L596.61 866.12L597.55 866.12L598.48 866.20L599.42 866.36L600.36 866.61L601.29 866.93L602.23 867.34L603.16 867.82L604.10 868.39L605.03 869.03L605.97 869.75L606.91 870.55L607.84 871.42L608.78 872.37L609.71 873.39L610.65 874.48L611.59 875.64L612.52 876.87L613.46 878.17L614.39 879.53L615.33 880.95L616.26 882.44L617.20 883.99L618.14 885.59L619.07 887.25L620.01 888.96L620.94 890.72L621.88 892.53L622.82 894.38L623.75 896.28L624.69 898.22L625.62 900.20L626.56 902.22L627.49 904.27L628.43 906.36L629.37 908.47L630.30 910.61L631.24 912.77L632.17 914.96L633.11 917.16L634.04 919.39L634.98 921.63L635.92 923.88L636.85 926.14L637.79 928.40L638.72 930.68L639.66 932.96L640.60 935.23L641.53 937.51L642.47 939.79L643.40 942.05L644.34 944.32L645.27 946.57L646.21 948.81L647.15 951.04L648.08 953.25L649.02 955.45L649.95 957.63L650.89 959.79L651.82 961.93L652.76 964.04L653.70 966.14L654.63 968.21L655.57 970.25L656.50 972.26L657.44 974.25L658.38 976.20L659.31 978.13L660.25 980.02L661.18 981.88L662.12 983.71L663.05 985.51L663.99 987.27L664.93 989.00L665.86 990.69L666.80 992.35L667.73 993.97L668.67 995.55L669.61 997.10L670.54 998.61L671.48 1000.09L672.41 1001.53L673.35 1002.93L674.28 1004.30L675.22 1005.63L676.16 1006.93L677.09 1008.19L678.03 1009.41L678.96 1010.60L679.90 1011.75L680.83 1012.87L681.77 1013.95L682.71 1015.00L683.64 1016.02L684.58 1017.00L685.51 1017.95L686.45 1018.87L687.39 1019.76L688.32 1020.62L689.26 1021.45L690.19 1022.24L691.13 1023.01L692.06 1023.75L693.00 1024.47L693.94 1025.15L694.87 1025.81L695.81 1026.45L696.74 1027.05L697.68 1027.64L698.61 1028.20L699.55 1028.74L700.49 1029.25L701.42 1029.74L702.36 1030.22L703.29 1030.67L704.23 1031.10L705.17 1031.51L706.10 1031.91L707.04 1032.28L707.97 1032.64L708.91 1032.98L709.84 1033.31L710.78 1033.62L711.72 1033.92L712.65 1034.20L713.59 1034.47L714.52 1034.72L715.46 1034.96L716.39 1035.19L717.33 1035.41L718.27 1035.61L719.20 1035.81L720.14 1036.00L721.07 1036.17L722.01 1036.34L722.95 1036.50L723.88 1036.64L724.82 1036.78L725.75 1036.92L726.69 1037.04L727.62 1037.16L728.56 1037.27L729.50 1037.38L730.43 1037.48L731.37 1037.57L732.30 1037.66L733.24 1037.74L734.18 1037.82L735.11 1037.89L736.05 1037.96L736.98 1038.02L737.92 1038.08L738.85 1038.14L739.79 1038.19L740.73 1038.24L741.66 1038.29L742.60 1038.33L743.53 1038.37L744.47 1038.41L745.40 1038.44L746.34 1038.48L747.28 1038.51L748.21 1038.54L749.15 1038.56L750.08 1038.59L751.02 1038.61L751.96 1038.63L752.89 1038.65L753.83 1038.67L754.76 1038.69L755.70 1038.71L756.63 1038.72L757.57 1038.73L758.51 1038.75L759.44 1038.76L760.38 1038.77L761.31 1038.78L762.25 1038.79L763.19 1038.80L764.12 1038.81L765.06 1038.81L765.99 1038.82L766.93 1038.83L767.86 1038.83L768.80 1038.84L769.74 1038.84L770.67 1038.85L771.61 1038.85L772.54 1038.86L773.48 1038.86L774.41 1038.86L775.35 1038.87L776.29 1038.87L777.22 1038.87L778.16 1038.88L779.09 1038.88L780.03 1038.88L780.97 1038.88L781.90 1038.88L782.84 1038.88L783.77 1038.89L784.71 1038.89L785.64 1038.89L786.58 1038.89L787.52 1038.89L973.74 1038.90"/>
<path stroke="#3383be" d="M225.10 1038.90L397.29 1038.89L398.22 1038.89L399.16 1038.89L400.09 1038.89L401.03 1038.89L401.97 1038.88L402.90 1038.88L403.84 1038.88L404.77 1038.88L405.71 1038.88L406.65 1038.87L407.58 1038.87L408.52 1038.87L409.45 1038.86L410.39 1038.86L411.32 1038.85L412.26 1038.85L413.20 1038.84L414.13 1038.84L415.07 1038.83L416.00 1038.82L416.94 1038.82L417.87 1038.81L418.81 1038.80L419.75 1038.79L420.68 1038.78L421.62 1038.76L422.55 1038.75L423.49 1038.74L424.43 1038.72L425.36 1038.70L426.30 1038.68L427.23 1038.66L428.17 1038.64L429.10 1038.61L430.04 1038.59L430.98 1038.56L431.91 1038.52L432.85 1038.49L433.78 1038.45L434.72 1038.41L435.65 1038.37L436.59 1038.32L437.53 1038.27L438.46 1038.21L439.40 1038.15L440.33 1038.08L441.27 1038.01L442.21 1037.94L443.14 1037.85L444.08 1037.77L445.01 1037.67L445.95 1037.57L446.88 1037.46L447.82 1037.34L448.76 1037.22L449.69 1037.08L450.63 1036.94L451.56 1036.78L452.50 1036.61L453.44 1036.44L454.37 1036.25L455.31 1036.04L456.24 1035.83L457.18 1035.60L458.11 1035.35L459.05 1035.09L459.99 1034.81L460.92 1034.52L461.86 1034.20L462.79 1033.87L463.73 1033.52L464.66 1033.14L465.60 1032.75L466.54 1032.33L467.47 1031.88L468.41 1031.42L469.34 1030.92L470.28 1030.40L471.22 1029.85L472.15 1029.27L473.09 1028.65L474.02 1028.01L474.96 1027.33L475.89 1026.62L476.83 1025.88L477.77 1025.09L478.70 1024.27L479.64 1023.41L480.57 1022.51L481.51 1021.57L482.45 1020.58L483.38 1019.56L484.32 1018.48L485.25 1017.37L486.19 1016.20L487.12 1014.99L488.06 1013.72L489.00 1012.41L489.93 1011.05L490.87 1009.63L491.80 1008.17L492.74 1006.64L493.67 1005.07L494.61 1003.44L495.55 1001.76L496.48 1000.02L497.42 998.22L498.35 996.37L499.29 994.46L500.23 992.50L501.16 990.48L502.10 988.40L503.03 986.27L503.97 984.08L504.90 981.84L505.84 979.55L506.78 977.20L507.71 974.79L508.65 972.34L509.58 969.84L510.52 967.28L511.45 964.68L512.39 962.04L513.33 959.35L514.26 956.61L515.20 953.84L516.13 951.03L517.07 948.18L518.01 945.30L518.94 942.39L519.88 939.45L520.81 936.49L521.75 933.51L522.68 930.51L523.62 927.49L524.56 924.46L525.49 921.42L526.43 918.38L527.36 915.33L528.30 912.29L529.24 909.26L530.17 906.24L531.11 903.23L532.04 900.25L532.98 897.28L533.91 894.35L534.85 891.44L535.79 888.58L536.72 885.75L537.66 882.97L538.59 880.24L539.53 877.56L540.46 874.94L541.40 872.39L542.34 869.90L543.27 867.48L544.21 865.14L545.14 862.88L546.08 860.70L547.02 858.60L547.95 856.60L548.89 854.69L549.82 852.88L550.76 851.17L551.69 849.56L552.63 848.06L553.57 846.67L554.50 845.39L555.44 844.23L556.37 843.18L557.31 842.25L558.24 841.44L559.18 840.76L560.12 840.19L561.05 839.75L561.99 839.44L562.92 839.25L563.86 839.19L564.80 839.25L565.73 839.44L566.67 839.75L567.60 840.19L568.54 840.76L569.47 841.44L570.41 842.25L571.35 843.18L572.28 844.23L573.22 845.39L574.15 846.67L575.09 848.06L576.02 849.56L576.96 851.17L577.90 852.88L578.83 854.69L579.77 856.60L580.70 858.60L581.64 860.70L582.58 862.88L583.51 865.14L584.45 867.48L585.38 869.90L586.32 872.39L587.25 874.94L588.19 877.56L589.13 880.24L590.06 882.97L591.00 885.75L591.93 888.58L592.87 891.44L593.81 894.35L594.74 897.28L595.68 900.25L596.61 903.23L597.55 906.24L598.48 909.26L599.42 912.29L600.36 915.33L601.29 918.38L602.23 921.42L603.16 924.46L604.10 927.49L605.03 930.51L605.97 933.51L606.91 936.49L607.84 939.45L608.78 942.39L609.71 945.30L610.65 948.18L611.59 951.03L612.52 953.84L613.46 956.61L614.39 959.35L615.33 962.04L616.26 964.68L617.20 967.28L618.14 969.84L619.07 972.34L620.01 974.79L620.94 977.20L621.88 979.55L622.82 981.84L623.75 984.08L624.69 986.27L625.62 988.40L626.56 990.48L627.49 992.50L628.43 994.46L629.37 996.37L630.30 998.22L631.24 1000.02L632.17 1001.76L633.11 1003.44L634.04 1005.07L634.98 1006.64L635.92 1008.17L636.85 1009.63L637.79 1011.05L638.72 1012.41L639.66 1013.72L640.60 1014.99L641.53 1016.20L642.47 1017.37L643.40 1018.48L644.34 1019.56L645.27 1020.58L646.21 1021.57L647.15 1022.51L648.08 1023.41L649.02 1024.27L649.95 1025.09L650.89 1025.88L651.82 1026.62L652.76 1027.33L653.70 1028.01L654.63 1028.65L655.57 1029.27L656.50 1029.85L657.44 1030.40L658.38 1030.92L659.31 1031.42L660.25 1031.88L661.18 1032.33L662.12 1032.75L663.05 1033.14L663.99 1033.52L664.93 1033.87L665.86 1034.20L666.80 1034.52L667.73 1034.81L668.67 1035.09L669.61 1035.35L670.54 1035.60L671.48 1035.83L672.41 1036.04L673.35 1036.25L674.28 1036.44L675.22 1036.61L676.16 1036.78L677.09 1036.94L678.03 1037.08L678.96 1037.22L679.90 1037.34L680.83 1037.46L681.77 1037.57L682.71 1037.67L683.64 1037.77L684.58 1037.85L685.51 1037.94L686.45 1038.01L687.39 1038.08L688.32 1038.15L689.26 1038.21L690.19 1038.27L691.13 1038.32L692.06 1038.37L693.00 1038.41L693.94 1038.45L694.87 1038.49L695.81 1038.52L696.74 1038.56L697.68 1038.59L698.61 1038.61L699.55 1038.64L700.49 1038.66L701.42 1038.68L702.36 1038.70L703.29 1038.72L704.23 1038.74L705.17 1038.75L706.10 1038.76L707.04 1038.78L707.97 1038.79L708.91 1038.80L709.84 1038.81L710.78 1038.82L711.72 1038.82L712.65 1038.83L713.59 1038.84L714.52 1038.84L715.46 1038.85L716.39 1038.85L717.33 1038.86L718.27 1038.86L719.20 1038.87L720.14 1038.87L721.07 1038.87L722.01 1038.88L722.95 1038.88L723.88 1038.88L724.82 1038.88L725.75 1038.88L726.69 1038.89L727.62 1038.89L728.56 1038.89L729.50 1038.89L730.43 1038.89L973.74 1038.90"/>
<path stroke="#0d57a1" d="M225.10 1038.90L293.41 1038.89L294.35 1038.89L295.29 1038.89L296.22 1038.89L297.16 1038.88L298.09 1038.88L299.03 1038.88L299.96 1038.88L300.90 1038.88L301.84 1038.87L302.77 1038.87L303.71 1038.87L304.64 1038.86L305.58 1038.86L306.51 1038.86L307.45 1038.85L308.39 1038.85L309.32 1038.84L310.26 1038.83L311.19 1038.83L312.13 1038.82L313.07 1038.81L314.00 1038.80L314.94 1038.79L315.87 1038.78L316.81 1038.77L317.74 1038.75L318.68 1038.74L319.62 1038.72L320.55 1038.71L321.49 1038.69L322.42 1038.67L323.36 1038.65L324.29 1038.62L325.23 1038.60L326.17 1038.57L327.10 1038.54L328.04 1038.50L328.97 1038.47L329.91 1038.43L330.85 1038.38L331.78 1038.34L332.72 1038.29L333.65 1038.23L334.59 1038.17L335.52 1038.11L336.46 1038.04L337.40 1037.97L338.33 1037.89L339.27 1037.80L340.20 1037.71L341.14 1037.61L342.08 1037.51L343.01 1037.39L343.95 1037.27L344.88 1037.14L345.82 1037.00L346.75 1036.85L347.69 1036.69L348.63 1036.52L349.56 1036.34L350.50 1036.14L351.43 1035.94L352.37 1035.71L353.30 1035.48L354.24 1035.23L355.18 1034.96L356.11 1034.67L357.05 1034.37L357.98 1034.05L358.92 1033.71L359.86 1033.35L360.79 1032.97L361.73 1032.56L362.66 1032.13L363.60 1031.68L364.53 1031.20L365.47 1030.70L366.41 1030.17L367.34 1029.61L368.28 1029.02L369.21 1028.40L370.15 1027.75L371.08 1027.06L372.02 1026.34L372.96 1025.58L373.89 1024.79L374.83 1023.96L375.76 1023.09L376.70 1022.18L377.64 1021.23L378.57 1020.24L379.51 1019.20L380.44 1018.12L381.38 1016.99L382.31 1015.82L383.25 1014.60L384.19 1013.33L385.12 1012.01L386.06 1010.64L386.99 1009.22L387.93 1007.74L388.87 1006.22L389.80 1004.64L390.74 1003.00L391.67 1001.32L392.61 999.57L393.54 997.78L394.48 995.93L395.42 994.02L396.35 992.05L397.29 990.04L398.22 987.96L399.16 985.83L400.09 983.65L401.03 981.41L401.97 979.12L402.90 976.78L403.84 974.39L404.77 971.94L405.71 969.45L406.65 966.91L407.58 964.32L408.52 961.69L409.45 959.01L410.39 956.30L411.32 953.54L412.26 950.75L413.20 947.92L414.13 945.06L415.07 942.18L416.00 939.26L416.94 936.32L417.87 933.36L418.81 930.39L419.75 927.40L420.68 924.40L421.62 921.39L422.55 918.37L423.49 915.36L424.43 912.35L425.36 909.35L426.30 906.36L427.23 903.39L428.17 900.44L429.10 897.51L430.04 894.60L430.98 891.74L431.91 888.90L432.85 886.11L433.78 883.37L434.72 880.67L435.65 878.03L436.59 875.44L437.53 872.92L438.46 870.47L439.40 868.08L440.33 865.77L441.27 863.54L442.21 861.39L443.14 859.32L444.08 857.35L445.01 855.46L445.95 853.68L446.88 851.99L447.82 850.41L448.76 848.93L449.69 847.56L450.63 846.30L451.56 845.15L452.50 844.12L453.44 843.21L454.37 842.41L455.31 841.73L456.24 841.18L457.18 840.74L458.11 840.44L459.05 840.25L459.99 840.19L460.92 840.25L461.86 840.44L462.79 840.74L463.73 841.18L464.66 841.73L465.60 842.41L466.54 843.21L467.47 844.12L468.41 845.15L469.34 846.30L470.28 847.56L471.22 848.93L472.15 850.41L473.09 851.99L474.02 853.68L474.96 855.46L475.89 857.35L476.83 859.32L477.77 861.39L478.70 863.54L479.64 865.77L480.57 868.08L481.51 870.47L482.45 872.92L483.38 875.44L484.32 878.03L485.25 880.67L486.19 883.37L487.12 886.11L488.06 888.90L489.00 891.74L489.93 894.60L490.87 897.51L491.80 900.44L492.74 903.39L493.67 906.36L494.61 909.35L495.55 912.35L496.48 915.36L497.42 918.37L498.35 921.39L499.29 924.40L500.23 927.40L501.16 930.39L502.10 933.36L503.03 936.32L503.97 939.26L504.90 942.18L505.84 945.06L506.78 947.92L507.71 950.75L508.65 953.54L509.58 956.30L510.52 959.01L511.45 961.69L512.39 964.32L513.33 966.91L514.26 969.45L515.20 971.94L516.13 974.39L517.07 976.78L518.01 979.12L518.94 981.41L519.88 983.65L520.81 985.83L521.75 987.96L522.68 990.04L523.62 992.05L524.56 994.02L525.49 995.93L526.43 997.78L527.36 999.57L528.30 1001.32L529.24 1003.00L530.17 1004.64L531.11 1006.22L532.04 1007.74L532.98 1009.22L533.91 1010.64L534.85 1012.01L535.79 1013.33L536.72 1014.60L537.66 1015.82L538.59 1016.99L539.53 1018.12L540.46 1019.20L541.40 1020.24L542.34 1021.23L543.27 1022.18L544.21 1023.09L545.14 1023.96L546.08 1024.79L547.02 1025.58L547.95 1026.34L548.89 1027.06L549.82 1027.75L550.76 1028.40L551.69 1029.02L552.63 1029.61L553.57 1030.17L554.50 1030.70L555.44 1031.20L556.37 1031.68L557.31 1032.13L558.24 1032.56L559.18 1032.97L560.12 1033.35L561.05 1033.71L561.99 1034.05L562.92 1034.37L563.86 1034.67L564.80 1034.96L565.73 1035.23L566.67 1035.48L567.60 1035.71L568.54 1035.94L569.47 1036.14L570.41 1036.34L571.35 1036.52L572.28 1036.69L573.22 1036.85L574.15 1037.00L575.09 1037.14L576.02 1037.27L576.96 1037.39L577.90 1037.51L578.83 1037.61L579.77 1037.71L580.70 1037.80L581.64 1037.89L582.58 1037.97L583.51 1038.04L584.45 1038.11L585.38 1038.17L586.32 1038.23L587.25 1038.29L588.19 1038.34L589.13 1038.38L590.06 1038.43L591.00 1038.47L591.93 1038.50L592.87 1038.54L593.81 1038.57L594.74 1038.60L595.68 1038.62L596.61 1038.65L597.55 1038.67L598.48 1038.69L599.42 1038.71L600.36 1038.72L601.29 1038.74L602.23 1038.75L603.16 1038.77L604.10 1038.78L605.03 1038.79L605.97 1038.80L606.91 1038.81L607.84 1038.82L608.78 1038.83L609.71 1038.83L610.65 1038.84L611.59 1038.85L612.52 1038.85L613.46 1038.86L614.39 1038.86L615.33 1038.86L616.26 1038.87L617.20 1038.87L618.14 1038.87L619.07 1038.88L620.01 1038.88L620.94 1038.88L621.88 1038.88L622.82 1038.88L623.75 1038.89L624.69 1038.89L625.62 1038.89L626.56 1038.89L973.74 1038.90"/>
<path stroke="#fdb576" d="M225.10 1038.90L398.22 1038.89L399.16 1038.89L400.09 1038.88L401.03 1038.86L401.97 1038.83L402.90 1038.78L403.84 1038.71L404.77 1038.60L405.71 1038.42L406.65 1038.16L407.58 1037.76L408.52 1037.16L409.45 1036.29L410.39 1035.04L411.32 1033.28L412.26 1030.80L413.20 1027.40L414.13 1022.79L415.07 1016.63L416.00 1008.53L416.94 998.04L417.87 984.66L418.81 967.87L419.75 947.12L420.68 921.89L421.62 891.73L422.55 856.28L423.49 815.33L424.43 768.85L425.36 717.09L426.30 660.55L427.23 600.03L428.17 536.65L429.10 471.81L430.04 407.19L430.98 344.64L431.91 286.11L432.85 233.58L433.78 188.94L434.72 153.83L435.65 129.63L436.59 117.28L437.53 117.28L438.46 129.63L439.40 153.83L440.33 188.94L441.27 233.58L442.21 286.11L443.14 344.64L444.08 407.19L445.01 471.81L445.95 536.65L446.88 600.03L447.82 660.55L448.76 717.09L449.69 768.85L450.63 815.33L451.56 856.28L452.50 891.73L453.44 921.89L454.37 947.12L455.31 967.87L456.24 984.66L457.18 998.04L458.11 1008.53L459.05 1016.63L459.99 1022.79L460.92 1027.40L461.86 1030.80L462.79 1033.28L463.73 1035.04L464.66 1036.29L465.60 1037.16L466.54 1037.76L467.47 1038.16L468.41 1038.42L469.34 1038.60L470.28 1038.71L471.22 1038.78L472.15 1038.83L473.09 1038.86L474.02 1038.88L474.96 1038.89L475.89 1038.89L973.74 1038.90"/>
<path stroke="#fd9a4e" d="M225.10 1038.90L393.54 1038.89L394.48 1038.89L395.42 1038.88L396.35 1038.88L397.29 1038.86L398.22 1038.85L399.16 1038.82L400.09 1038.78L401.03 1038.73L401.97 1038.66L402.90 1038.55L403.84 1038.41L404.77 1038.21L405.71 1037.94L406.65 1037.58L407.58 1037.09L408.52 1036.44L409.45 1035.59L410.39 1034.47L411.32 1033.02L412.26 1031.17L413.20 1028.81L414.13 1025.84L415.07 1022.14L416.00 1017.55L416.94 1011.92L417.87 1005.08L418.81 996.86L419.75 987.05L420.68 975.46L421.62 961.91L422.55 946.22L423.49 928.23L424.43 907.80L425.36 884.86L426.30 859.35L427.23 831.29L428.17 800.78L429.10 767.98L430.04 733.14L430.98 696.60L431.91 658.76L432.85 620.13L433.78 581.28L434.72 542.84L435.65 505.49L436.59 469.94L437.53 436.89L438.46 407.04L439.40 381.04L440.33 359.47L441.27 342.83L442.21 331.52L443.14 325.79L444.08 325.79L445.01 331.52L445.95 342.83L446.88 359.47L447.82 381.04L448.76 407.04L449.69 436.89L450.63 469.94L451.56 505.49L452.50 542.84L453.44 581.28L454.37 620.13L455.31 658.76L456.24 696.60L457.18 733.14L458.11 767.98L459.05 800.78L459.99 831.29L460.92 859.35L461.86 884.86L462.79 907.80L463.73 928.23L464.66 946.22L465.60 961.91L466.54 975.46L467.47 987.05L468.41 996.86L469.34 1005.08L470.28 1011.92L471.22 1017.55L472.15 1022.14L473.09 1025.84L474.02 1028.81L474.96 1031.17L475.89 1033.02L476.83 1034.47L477.77 1035.59L478.70 1036.44L479.64 1037.09L480.57 1037.58L481.51 1037.94L482.45 1038.21L483.38 1038.41L484.32 1038.55L485.25 1038.66L486.19 1038.73L487.12 1038.78L488.06 1038.82L489.00 1038.85L489.93 1038.86L490.87 1038.88L491.80 1038.88L492.74 1038.89L493.67 1038.89L973.74 1038.90"/>
<path stroke="#f87f2c" d="M225.10 1038.90L358.92 1038.89L359.86 1038.89L360.79 1038.88L361.73 1038.87L362.66 1038.86L363.60 1038.84L364.53 1038.82L365.47 1038.78L366.41 1038.73L367.34 1038.66L368.28 1038.57L369.21 1038.44L370.15 1038.27L371.08 1038.04L372.02 1037.74L372.96 1037.34L373.89 1036.82L374.83 1036.15L375.76 1035.28L376.70 1034.17L377.64 1032.76L378.57 1030.99L379.51 1028.78L380.44 1026.05L381.38 1022.69L382.31 1018.60L383.25 1013.65L384.19 1007.71L385.12 1000.65L386.06 992.31L386.99 982.56L387.93 971.25L388.87 958.24L389.80 943.40L390.74 926.62L391.67 907.81L392.61 886.93L393.54 863.96L394.48 838.93L395.42 811.93L396.35 783.08L397.29 752.59L398.22 720.71L399.16 687.76L400.09 654.12L401.03 620.21L401.97 586.50L402.90 553.52L403.84 521.78L404.77 491.83L405.71 464.20L406.65 439.41L407.58 417.94L408.52 400.21L409.45 386.58L410.39 377.34L411.32 372.66L412.26 372.66L413.20 377.34L414.13 386.58L415.07 400.21L416.00 417.94L416.94 439.41L417.87 464.20L418.81 491.83L419.75 521.78L420.68 553.52L421.62 586.50L422.55 620.21L423.49 654.12L424.43 687.76L425.36 720.71L426.30 752.59L427.23 783.08L428.17 811.93L429.10 838.93L430.04 863.96L430.98 886.93L431.91 907.81L432.85 926.62L433.78 943.40L434.72 958.24L435.65 971.25L436.59 982.56L437.53 992.31L438.46 1000.65L439.40 1007.71L440.33 1013.65L441.27 1018.60L442.21 1022.69L443.14 1026.05L444.08 1028.78L445.01 1030.99L445.95 1032.76L446.88 1034.17L447.82 1035.28L448.76 1036.15L449.69 1036.82L450.63 1037.34L451.56 1037.74L452.50 1038.04L453.44 1038.27L454.37 1038.44L455.31 1038.57L456.24 1038.66L457.18 1038.73L458.11 1038.78L459.05 1038.82L459.99 1038.84L460.92 1038.86L461.86 1038.87L462.79 1038.88L463.73 1038.89L464.66 1038.89L973.74 1038.90"/>
<path stroke="#ec620f" d="M225.10 1038.90L368.28 1038.89L369.21 1038.89L370.15 1038.88L371.08 1038.87L372.02 1038.86L372.96 1038.83L373.89 1038.80L374.83 1038.76L375.76 1038.70L376.70 1038.61L377.64 1038.49L378.57 1038.33L379.51 1038.11L380.44 1037.80L381.38 1037.40L382.31 1036.86L383.25 1036.14L384.19 1035.21L385.12 1034.00L386.06 1032.44L386.99 1030.45L387.93 1027.94L388.87 1024.80L389.80 1020.89L390.74 1016.08L391.67 1010.22L392.61 1003.13L393.54 994.64L394.48 984.57L395.42 972.72L396.35 958.93L397.29 943.03L398.22 924.86L399.16 904.32L400.09 881.32L401.03 855.84L401.97 827.92L402.90 797.65L403.84 765.20L404.77 730.83L405.71 694.86L406.65 657.71L407.58 619.87L408.52 581.89L409.45 544.39L410.39 508.01L411.32 473.43L412.26 441.33L413.20 412.37L414.13 387.17L415.07 366.28L416.00 350.18L416.94 339.23L417.87 333.69L418.81 333.69L419.75 339.23L420.68 350.18L421.62 366.28L422.55 387.17L423.49 412.37L424.43 441.33L425.36 473.43L426.30 508.01L427.23 544.39L428.17 581.89L429.10 619.87L430.04 657.71L430.98 694.86L431.91 730.83L432.85 765.20L433.78 797.65L434.72 827.92L435.65 855.84L436.59 881.32L437.53 904.32L438.46 924.86L439.40 943.03L440.33 958.93L441.27 972.72L442.21 984.57L443.14 994.64L444.08 1003.13L445.01 1010.22L445.95 1016.08L446.88 1020.89L447.82 1024.80L448.76 1027.94L449.69 1030.45L450.63 1032.44L451.56 1034.00L452.50 1035.21L453.44 1036.14L454.37 1036.86L455.31 1037.40L456.24 1037.80L457.18 1038.11L458.11 1038.33L459.05 1038.49L459.99 1038.61L460.92 1038.70L461.86 1038.76L462.79 1038.80L463.73 1038.83L464.66 1038.86L465.60 1038.87L466.54 1038.88L467.47 1038.89L468.41 1038.89L973.74 1038.90"/>
<path stroke="#d84801" d="M225.10 1038.90L374.83 1038.89L375.76 1038.89L376.70 1038.89L377.64 1038.88L378.57 1038.87L379.51 1038.86L380.44 1038.84L381.38 1038.81L382.31 1038.78L383.25 1038.73L384.19 1038.67L385.12 1038.59L386.06 1038.48L386.99 1038.33L387.93 1038.13L388.87 1037.87L389.80 1037.54L390.74 1037.10L391.67 1036.55L392.61 1035.84L393.54 1034.94L394.48 1033.82L395.42 1032.41L396.35 1030.67L397.29 1028.52L398.22 1025.90L399.16 1022.72L400.09 1018.89L401.03 1014.31L401.97 1008.87L402.90 1002.46L403.84 994.95L404.77 986.25L405.71 976.21L406.65 964.73L407.58 951.71L408.52 937.05L409.45 920.67L410.39 902.53L411.32 882.60L412.26 860.89L413.20 837.45L414.13 812.37L415.07 785.77L416.00 757.84L416.94 728.79L417.87 698.91L418.81 668.51L419.75 637.94L420.68 607.60L421.62 577.89L422.55 549.25L423.49 522.12L424.43 496.94L425.36 474.12L426.30 454.07L427.23 437.13L428.17 423.62L429.10 413.79L430.04 407.81L430.98 405.80L431.91 407.81L432.85 413.79L433.78 423.62L434.72 437.13L435.65 454.07L436.59 474.12L437.53 496.94L438.46 522.12L439.40 549.25L440.33 577.89L441.27 607.60L442.21 637.94L443.14 668.51L444.08 698.91L445.01 728.79L445.95 757.84L446.88 785.77L447.82 812.37L448.76 837.45L449.69 860.89L450.63 882.60L451.56 902.53L452.50 920.67L453.44 937.05L454.37 951.71L455.31 964.73L456.24 976.21L457.18 986.25L458.11 994.95L459.05 1002.46L459.99 1008.87L460.92 1014.31L461.86 1018.89L462.79 1022.72L463.73 1025.90L464.66 1028.52L465.60 1030.67L466.54 1032.41L467.47 1033.82L468.41 1034.94L469.34 1035.84L470.28 1036.55L471.22 1037.10L472.15 1037.54L473.09 1037.87L474.02 1038.13L474.96 1038.33L475.89 1038.48L476.83 1038.59L477.77 1038.67L478.70 1038.73L479.64 1038.78L480.57 1038.81L481.51 1038.84L482.45 1038.86L483.38 1038.87L484.32 1038.88L485.25 1038.89L486.19 1038.89L487.12 1038.89L973.74 1038.90"/>
<path stroke="#b03903" d="M225.10 1038.90L339.27 1038.89L340.20 1038.89L341.14 1038.88L342.08 1038.88L343.01 1038.87L343.95 1038.86L344.88 1038.85L345.82 1038.83L346.75 1038.81L347.69 1038.78L348.63 1038.75L349.56 1038.71L350.50 1038.65L351.43 1038.58L352.37 1038.50L353.30 1038.39L354.24 1038.26L355.18 1038.09L356.11 1037.89L357.05 1037.64L357.98 1037.34L358.92 1036.97L359.86 1036.53L360.79 1035.99L361.73 1035.35L362.66 1034.58L363.60 1033.67L364.53 1032.58L365.47 1031.31L366.41 1029.81L367.34 1028.06L368.28 1026.02L369.21 1023.66L370.15 1020.94L371.08 1017.82L372.02 1014.25L372.96 1010.20L373.89 1005.60L374.83 1000.43L375.76 994.62L376.70 988.15L377.64 980.95L378.57 972.99L379.51 964.24L380.44 954.66L381.38 944.23L382.31 932.93L383.25 920.74L384.19 907.67L385.12 893.74L386.06 878.96L386.99 863.36L387.93 847.02L388.87 829.97L389.80 812.31L390.74 794.13L391.67 775.54L392.61 756.65L393.54 737.60L394.48 718.54L395.42 699.61L396.35 680.99L397.29 662.84L398.22 645.32L399.16 628.62L400.09 612.90L401.03 598.33L401.97 585.05L402.90 573.22L403.84 562.97L404.77 554.42L405.71 547.66L406.65 542.78L407.58 539.82L408.52 538.84L409.45 539.82L410.39 542.78L411.32 547.66L412.26 554.42L413.20 562.97L414.13 573.22L415.07 585.05L416.00 598.33L416.94 612.90L417.87 628.62L418.81 645.32L419.75 662.84L420.68 680.99L421.62 699.61L422.55 718.54L423.49 737.60L424.43 756.65L425.36 775.54L426.30 794.13L427.23 812.31L428.17 829.97L429.10 847.02L430.04 863.36L430.98 878.96L431.91 893.74L432.85 907.67L433.78 920.74L434.72 932.93L435.65 944.23L436.59 954.66L437.53 964.24L438.46 972.99L439.40 980.95L440.33 988.15L441.27 994.62L442.21 1000.43L443.14 1005.60L444.08 1010.20L445.01 1014.25L445.95 1017.82L446.88 1020.94L447.82 1023.66L448.76 1026.02L449.69 1028.06L450.63 1029.81L451.56 1031.31L452.50 1032.58L453.44 1033.67L454.37 1034.58L455.31 1035.35L456.24 1035.99L457.18 1036.53L458.11 1036.97L459.05 1037.34L459.99 1037.64L460.92 1037.89L461.86 1038.09L462.79 1038.26L463.73 1038.39L464.66 1038.50L465.60 1038.58L466.54 1038.65L467.47 1038.71L468.41 1038.75L469.34 1038.78L470.28 1038.81L471.22 1038.83L472.15 1038.85L473.09 1038.86L474.02 1038.87L474.96 1038.88L475.89 1038.88L476.83 1038.89L477.77 1038.89L973.74 1038.90"/>
</g>
<g stroke="#000" fill="none">
<rect x="188.0" y="73.0" width="823.0" height="965.9" stroke-width="4.17"/>
</g>
<g stroke-width="7.8" fill="none">
<line x1="1037.9" y1="105.90" x2="1114" y2="105.90" stroke="#a6cee4"/><line x1="1037.9" y1="165.65" x2="1114" y2="165.65" stroke="#65aad4"/><line x1="1037.9" y1="225.40" x2="1114" y2="225.40" stroke="#3383be"/><line x1="1037.9" y1="285.15" x2="1114" y2="285.15" stroke="#0d57a1"/><line x1="1037.9" y1="344.90" x2="1114" y2="344.90" stroke="#fdb576"/><line x1="1037.9" y1="404.65" x2="1114" y2="404.65" stroke="#fd9a4e"/><line x1="1037.9" y1="464.40" x2="1114" y2="464.40" stroke="#f87f2c"/><line x1="1037.9" y1="524.15" x2="1114" y2="524.15" stroke="#ec620f"/><line x1="1037.9" y1="583.90" x2="1114" y2="583.90" stroke="#d84801"/><line x1="1037.9" y1="643.65" x2="1114" y2="643.65" stroke="#b03903"/>
</g>
<g font-size="64">
<text transform="matrix(1.1477 0 0 1.0185 408.32 54.05)">Gaussian</text>
<text transform="matrix(1.1422 0 0 0.9903 696.56 54.07)">fits</text>
</g>
<g font-size="68">
<text transform="matrix(1.1924 0 0 1.0237 217.25 1165.80)">Unrestrained</text>
<text transform="matrix(1.1007 0 0 1.0530 658.56 1164.78)">ESP</text>
<text class="i" transform="matrix(0.8467 0 0 0.8582 807.66 1165.24)">q</text>
<text stroke="#fff" stroke-width="0.91" transform="matrix(0.8065 0 0 1.0047 856.94 1166.67)">(</text>
<text class="i" stroke="#fff" stroke-width="0.71" transform="matrix(0.8967 0 0 0.8885 877.94 1165.90)">e</text>
<text transform="matrix(0.8034 0 0 0.3403 919.57 1137.79)">−</text>
<text stroke="#fff" stroke-width="0.95" transform="matrix(0.8214 0 0 1.0081 965.91 1166.18)">)</text>
</g>
<g font-size="68">
<text class="i" stroke="#fff" stroke-width="1.29" transform="matrix(1.0890 0 0 0.9654 13.31 539.00)">P</text>
<text stroke="#fff" stroke-width="1.02" transform="matrix(0.8696 0 0 1.0047 52.63 540.17)">(</text>
<text class="i" transform="matrix(0.8467 0 0 0.8582 74.66 538.74)">q</text>
<text stroke="#fff" stroke-width="0.95" transform="matrix(0.8214 0 0 1.0081 103.91 539.68)">)</text>
</g>
<g font-size="54">
<text transform="matrix(1.1197 0 0 1.2617 173.15 1099.18)">−</text>
<text transform="matrix(1.0536 0 0 0.9663 209.22 1090.40)">1.0</text>
<text transform="matrix(1.1197 0 0 1.2617 406.15 1098.18)">−</text>
<text transform="matrix(1.0408 0 0 0.9519 442.55 1089.41)">0.5</text>
<text transform="matrix(1.0491 0 0 0.9523 658.02 1089.41)">0.0</text>
<text transform="matrix(1.0411 0 0 0.9523 891.03 1089.41)">0.5</text>
</g>
<g font-size="54">
<text transform="matrix(0.9947 0 0 0.9594 145.12 1058.17)">0</text>
<text transform="matrix(0.9809 0 0 0.9604 145.96 860.17)">5</text>
<text transform="matrix(1.0240 0 0 0.9736 116.86 661.16)">10</text>
<text transform="matrix(1.0134 0 0 0.9807 116.91 461.15)">15</text>
<text transform="matrix(1.0256 0 0 0.9591 115.91 261.16)">20</text>
</g>
<g font-size="40">
<text transform="matrix(1.0718 0 0 1.0796 1141.70 119.50)">N1</text>
<text transform="matrix(0.8491 0 0 0.9286 1210.54 116.59)">(</text>
<text class="i" stroke="#fff" stroke-width="0.54" transform="matrix(1.0456 0 0 0.9088 1225.16 119.28)">μ</text>
<text stroke="#fff" stroke-width="0.39" transform="matrix(1.2912 0 0 0.8882 1252.91 121.22)">=</text>
<text transform="matrix(1.1820 0 0 0.4889 1290.13 116.00)">−</text>
<text stroke="#fff" stroke-width="0.12" transform="matrix(0.9356 0 0 0.9529 1318.10 118.43)">0.473</text>
<text transform="matrix(1.0392 0 0 0.8537 1403.10 118.59)">,</text>
<text class="i" stroke="#fff" stroke-width="0.16" transform="matrix(0.9769 0 0 0.8069 1427.34 118.62)">σ</text>
<text stroke="#fff" stroke-width="0.39" transform="matrix(1.2912 0 0 0.8882 1454.91 121.22)">=</text>
<text transform="matrix(0.9356 0 0 0.9529 1491.10 118.43)">0.073</text>
<text transform="matrix(0.8703 0 0 0.9166 1577.54 116.52)">)</text>
<text transform="matrix(1.0999 0 0 1.0600 1141.67 179.50)">N2</text>
<text transform="matrix(0.8491 0 0 0.9286 1210.54 176.59)">(</text>
<text class="i" stroke="#fff" stroke-width="0.54" transform="matrix(1.0456 0 0 0.9088 1225.16 179.28)">μ</text>
<text stroke="#fff" stroke-width="0.39" transform="matrix(1.2912 0 0 0.8882 1252.91 181.22)">=</text>
<text transform="matrix(1.1820 0 0 0.4889 1290.13 176.00)">−</text>
<text transform="matrix(0.9326 0 0 0.9596 1318.11 178.42)">0.205</text>
<text transform="matrix(1.0392 0 0 0.8537 1403.10 178.59)">,</text>
<text class="i" stroke="#fff" stroke-width="0.16" transform="matrix(0.9769 0 0 0.8069 1427.34 178.62)">σ</text>
<text stroke="#fff" stroke-width="0.39" transform="matrix(1.2912 0 0 0.8882 1454.91 181.22)">=</text>
<text transform="matrix(0.9414 0 0 0.9530 1491.10 178.43)">0.092</text>
<text transform="matrix(0.8703 0 0 0.9166 1577.54 176.52)">)</text>
<text transform="matrix(1.1020 0 0 1.0443 1141.67 238.08)">N3</text>
<text transform="matrix(0.8491 0 0 0.9286 1210.54 235.59)">(</text>
<text class="i" stroke="#fff" stroke-width="0.54" transform="matrix(1.0456 0 0 0.9088 1225.16 238.28)">μ</text>
<text stroke="#fff" stroke-width="0.39" transform="matrix(1.2912 0 0 0.8882 1252.91 240.22)">=</text>
<text transform="matrix(1.1820 0 0 0.4889 1290.13 235.00)">−</text>
<text transform="matrix(0.9311 0 0 0.9529 1318.11 237.43)">0.276</text>
<text transform="matrix(1.0392 0 0 0.8537 1403.10 237.59)">,</text>
<text class="i" stroke="#fff" stroke-width="0.16" transform="matrix(0.9769 0 0 0.8069 1427.34 237.62)">σ</text>
<text stroke="#fff" stroke-width="0.39" transform="matrix(1.2912 0 0 0.8882 1454.91 240.22)">=</text>
<text transform="matrix(0.9378 0 0 0.9530 1491.10 237.43)">0.079</text>
<text transform="matrix(0.8703 0 0 0.9166 1577.54 235.52)">)</text>
<text transform="matrix(1.1023 0 0 1.0796 1141.67 298.50)">N4</text>
<text transform="matrix(0.8491 0 0 0.9286 1210.54 295.59)">(</text>
<text class="i" stroke="#fff" stroke-width="0.54" transform="matrix(1.0456 0 0 0.9088 1225.16 298.28)">μ</text>
<text stroke="#fff" stroke-width="0.39" transform="matrix(1.2912 0 0 0.8882 1252.91 300.22)">=</text>
<text transform="matrix(1.1820 0 0 0.4889 1290.13 295.00)">−</text>
<text stroke="#fff" stroke-width="0.27" transform="matrix(0.9354 0 0 0.9530 1318.10 297.43)">0.498</text>
<text transform="matrix(1.0392 0 0 0.8537 1403.10 297.59)">,</text>
<text class="i" stroke="#fff" stroke-width="0.16" transform="matrix(0.9769 0 0 0.8069 1427.34 297.62)">σ</text>
<text stroke="#fff" stroke-width="0.39" transform="matrix(1.2912 0 0 0.8882 1454.91 300.22)">=</text>
<text stroke="#fff" stroke-width="0.25" transform="matrix(0.9375 0 0 0.9529 1491.10 297.43)">0.080</text>
<text transform="matrix(0.8703 0 0 0.9166 1577.54 295.52)">)</text>
<text transform="matrix(1.0356 0 0 1.0626 1141.38 358.05)">O1</text>
<text transform="matrix(0.8491 0 0 0.9286 1208.54 355.59)">(</text>
<text class="i" stroke="#fff" stroke-width="0.54" transform="matrix(1.0456 0 0 0.9088 1223.16 358.28)">μ</text>
<text stroke="#fff" stroke-width="0.39" transform="matrix(1.2912 0 0 0.8882 1250.91 360.22)">=</text>
<text transform="matrix(1.1820 0 0 0.4889 1288.13 355.00)">−</text>
<text stroke="#fff" stroke-width="0.21" transform="matrix(0.9437 0 0 0.9596 1316.09 357.42)">0.547</text>
<text transform="matrix(1.0392 0 0 0.8537 1401.10 357.59)">,</text>
<text class="i" stroke="#fff" stroke-width="0.16" transform="matrix(0.9769 0 0 0.8069 1425.34 357.62)">σ</text>
<text stroke="#fff" stroke-width="0.39" transform="matrix(1.2912 0 0 0.8882 1452.91 360.22)">=</text>
<text transform="matrix(0.9437 0 0 0.9529 1489.09 357.43)">0.017</text>
<text transform="matrix(0.8703 0 0 0.9166 1575.54 355.52)">)</text>
<text transform="matrix(1.0643 0 0 1.0433 1141.34 418.06)">O2</text>
<text transform="matrix(0.8491 0 0 0.9286 1208.54 415.59)">(</text>
<text class="i" stroke="#fff" stroke-width="0.54" transform="matrix(1.0456 0 0 0.9088 1223.16 418.28)">μ</text>
<text stroke="#fff" stroke-width="0.39" transform="matrix(1.2912 0 0 0.8882 1250.91 420.22)">=</text>
<text transform="matrix(1.1820 0 0 0.4889 1288.13 415.00)">−</text>
<text transform="matrix(0.9356 0 0 0.9596 1316.10 417.42)">0.533</text>
<text transform="matrix(1.0392 0 0 0.8537 1401.10 417.59)">,</text>
<text class="i" stroke="#fff" stroke-width="0.16" transform="matrix(0.9769 0 0 0.8069 1425.34 417.62)">σ</text>
<text stroke="#fff" stroke-width="0.39" transform="matrix(1.2912 0 0 0.8882 1452.91 420.22)">=</text>
<text transform="matrix(0.9414 0 0 0.9529 1489.10 417.43)">0.022</text>
<text transform="matrix(0.8703 0 0 0.9166 1575.54 415.52)">)</text>
<text transform="matrix(1.0670 0 0 1.0435 1141.33 478.06)">O3</text>
<text transform="matrix(0.8491 0 0 0.9286 1208.54 475.59)">(</text>
<text class="i" stroke="#fff" stroke-width="0.54" transform="matrix(1.0456 0 0 0.9088 1223.16 478.28)">μ</text>
<text stroke="#fff" stroke-width="0.39" transform="matrix(1.2912 0 0 0.8882 1250.91 480.22)">=</text>
<text transform="matrix(1.1820 0 0 0.4889 1288.13 475.00)">−</text>
<text stroke="#fff" stroke-width="0.16" transform="matrix(0.9308 0 0 0.9529 1316.11 477.43)">0.601</text>
<text transform="matrix(1.0392 0 0 0.8537 1401.10 477.59)">,</text>
<text class="i" stroke="#fff" stroke-width="0.16" transform="matrix(0.9769 0 0 0.8069 1425.34 477.62)">σ</text>
<text stroke="#fff" stroke-width="0.39" transform="matrix(1.2912 0 0 0.8882 1452.91 480.22)">=</text>
<text stroke="#fff" stroke-width="0.17" transform="matrix(0.9331 0 0 0.9529 1489.11 477.43)">0.024</text>
<text transform="matrix(0.8703 0 0 0.9166 1575.54 475.52)">)</text>
<text transform="matrix(1.0679 0 0 1.0626 1141.33 537.05)">O4</text>
<text transform="matrix(0.8491 0 0 0.9286 1208.54 534.59)">(</text>
<text class="i" stroke="#fff" stroke-width="0.54" transform="matrix(1.0456 0 0 0.9088 1223.16 537.28)">μ</text>
<text stroke="#fff" stroke-width="0.39" transform="matrix(1.2912 0 0 0.8882 1250.91 539.22)">=</text>
<text transform="matrix(1.1820 0 0 0.4889 1288.13 534.00)">−</text>
<text stroke="#fff" stroke-width="0.22" transform="matrix(0.9437 0 0 0.9596 1316.09 536.42)">0.587</text>
<text transform="matrix(1.0392 0 0 0.8537 1401.10 536.59)">,</text>
<text class="i" stroke="#fff" stroke-width="0.16" transform="matrix(0.9769 0 0 0.8069 1425.34 536.62)">σ</text>
<text stroke="#fff" stroke-width="0.39" transform="matrix(1.2912 0 0 0.8882 1452.91 539.22)">=</text>
<text transform="matrix(0.9414 0 0 0.9529 1489.10 536.43)">0.022</text>
<text transform="matrix(0.8703 0 0 0.9166 1575.54 534.52)">)</text>
<text transform="matrix(1.0630 0 0 1.0432 1141.34 597.06)">O5</text>
<text transform="matrix(0.8491 0 0 0.9286 1208.54 594.59)">(</text>
<text class="i" stroke="#fff" stroke-width="0.54" transform="matrix(1.0456 0 0 0.9088 1223.16 597.28)">μ</text>
<text stroke="#fff" stroke-width="0.39" transform="matrix(1.2912 0 0 0.8882 1250.91 599.22)">=</text>
<text transform="matrix(1.1820 0 0 0.4889 1288.13 594.00)">−</text>
<text stroke="#fff" stroke-width="0.16" transform="matrix(0.9375 0 0 0.9596 1316.10 596.42)">0.560</text>
<text transform="matrix(1.0392 0 0 0.8537 1401.10 596.59)">,</text>
<text class="i" stroke="#fff" stroke-width="0.16" transform="matrix(0.9769 0 0 0.8069 1425.34 596.62)">σ</text>
<text stroke="#fff" stroke-width="0.39" transform="matrix(1.2912 0 0 0.8882 1452.91 599.22)">=</text>
<text transform="matrix(0.9326 0 0 0.9596 1489.11 596.42)">0.025</text>
<text transform="matrix(0.8703 0 0 0.9166 1575.54 594.52)">)</text>
<text transform="matrix(1.0659 0 0 1.0432 1141.34 657.06)">O6</text>
<text transform="matrix(0.8491 0 0 0.9286 1208.54 654.59)">(</text>
<text class="i" stroke="#fff" stroke-width="0.54" transform="matrix(1.0456 0 0 0.9088 1223.16 657.28)">μ</text>
<text stroke="#fff" stroke-width="0.39" transform="matrix(1.2912 0 0 0.8882 1250.91 659.22)">=</text>
<text transform="matrix(1.1820 0 0 0.4889 1288.13 654.00)">−</text>
<text stroke="#fff" stroke-width="0.23" transform="matrix(0.9354 0 0 0.9529 1316.10 656.43)">0.608</text>
<text transform="matrix(1.0392 0 0 0.8537 1401.10 656.59)">,</text>
<text class="i" stroke="#fff" stroke-width="0.16" transform="matrix(0.9769 0 0 0.8069 1425.34 656.62)">σ</text>
<text stroke="#fff" stroke-width="0.39" transform="matrix(1.2912 0 0 0.8882 1452.91 659.22)">=</text>
<text transform="matrix(0.9414 0 0 0.9529 1489.10 656.43)">0.032</text>
<text transform="matrix(0.8703 0 0 0.9166 1575.54 654.52)">)</text>
</g>
</svg>
</body></html>
